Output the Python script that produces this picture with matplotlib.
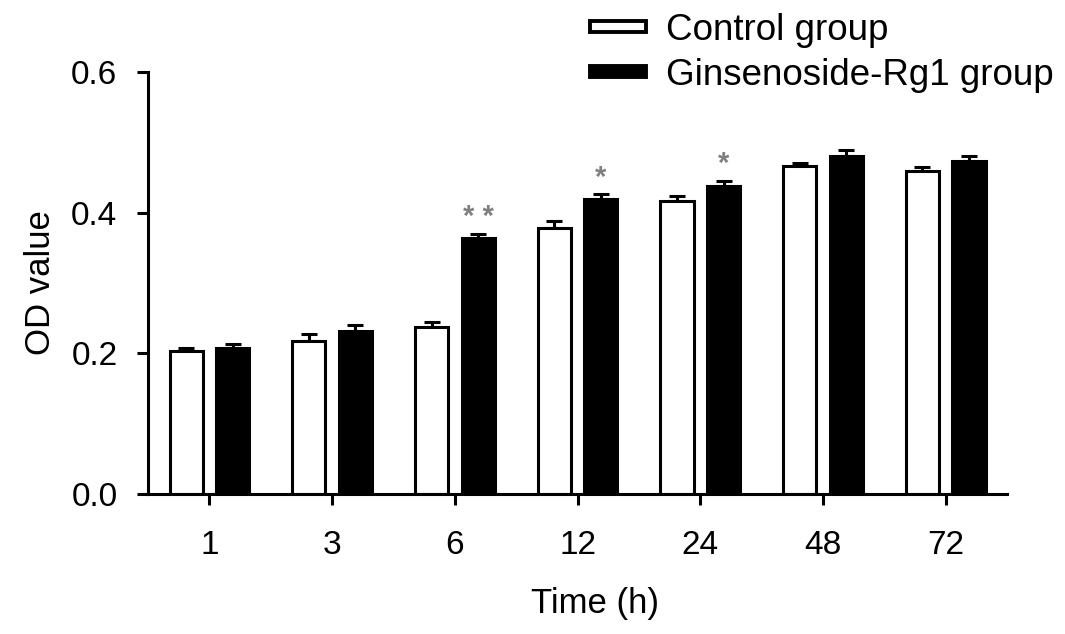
import matplotlib
matplotlib.use('Agg')
import matplotlib.pyplot as plt
import numpy as np
from matplotlib.patches import Patch

plt.rcParams['font.family'] = ['Liberation Sans', 'DejaVu Sans']

# data
times = ['1', '3', '6', '12', '24', '48', '72']
control = [0.203, 0.218, 0.237, 0.378, 0.417, 0.466, 0.459]
control_err = [0.005, 0.010, 0.007, 0.010, 0.007, 0.004, 0.006]
rg1 = [0.208, 0.232, 0.364, 0.419, 0.438, 0.480, 0.474]
rg1_err = [0.005, 0.008, 0.006, 0.007, 0.007, 0.009, 0.006]
rg1_stars = ['', '', '* *', '*', '*', '', '']

yticks = [0.0, 0.2, 0.4, 0.6]

# sizes
fs_tick = 24
fs_label = 25
lw = 2.2
bw = 0.27
off = 0.19

fig = plt.figure(figsize=(10.65, 6.34), dpi=100)
ax = fig.add_axes([0.139, 0.2208, 0.8066, 0.6656])

x = np.arange(len(times))
zeros = np.zeros(len(times))

ax.bar(x - off, control, bw, color='white', edgecolor='black', linewidth=lw, zorder=2)
ax.bar(x + off, rg1, bw, color='black', edgecolor='black', linewidth=lw, zorder=2)
ax.errorbar(x - off, control, yerr=[zeros, control_err], fmt='none', ecolor='black',
            elinewidth=lw, capsize=5.5, capthick=lw, zorder=1)
ax.errorbar(x + off, rg1, yerr=[zeros, rg1_err], fmt='none', ecolor='black',
            elinewidth=lw, capsize=5.5, capthick=lw, zorder=1)

# significance marks
for i, s in enumerate(rg1_stars):
    if s:
        ax.annotate(s, xy=(x[i] + off, rg1[i] + rg1_err[i]), xytext=(0, 2),
                    textcoords='offset points', ha='center', va='bottom',
                    fontsize=21, color='#808080', fontweight='bold')

ax.set_xlim(-0.5, len(times) - 0.5)
ax.set_ylim(0, 0.6)
ax.set_xticks(x)
ax.set_xticklabels(times)
ax.set_yticks(yticks)
ax.set_yticklabels(['%.1f' % v for v in yticks])

ax.spines['top'].set_visible(False)
ax.spines['right'].set_visible(False)
ax.spines['left'].set_linewidth(lw)
ax.spines['bottom'].set_linewidth(lw)
ax.tick_params(axis='both', width=lw, length=8, labelsize=fs_tick, colors='black')
ax.tick_params(axis='x', pad=18)
ax.tick_params(axis='y', pad=14)

ax.set_xlabel('Time (h)', fontsize=fs_label)
ax.xaxis.set_label_coords(0.52, -0.22)
ax.set_ylabel('OD value', fontsize=fs_label, labelpad=10)

handles = [Patch(facecolor='white', edgecolor='black', linewidth=lw + 0.6, label='Control group'),
           Patch(facecolor='black', edgecolor='black', linewidth=lw + 0.6, label='Ginsenoside-Rg1 group')]
fig.legend(handles=handles, loc='upper left', bbox_to_anchor=(0.551, 0.985), frameon=False,
           fontsize=26.5, handlelength=1.5, handleheight=0.1, handletextpad=0.55,
           labelspacing=0.26, borderpad=0.1, borderaxespad=0)

fig.savefig('out.png', dpi=100)
